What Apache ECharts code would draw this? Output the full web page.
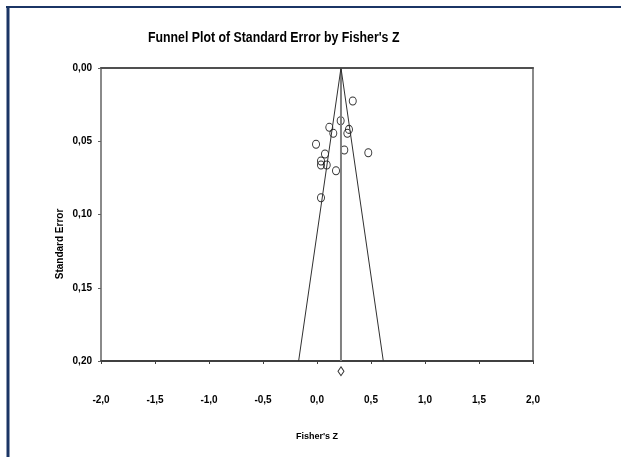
<!DOCTYPE html>
<html>
<head>
<meta charset="utf-8">
<script src="https://cdn.jsdelivr.net/npm/echarts@6/dist/echarts.min.js"></script>
<style>
html,body{margin:0;padding:0;background:#fff;}
#chart{width:621px;height:457px;}
</style>
</head>
<body>
<div id="chart"></div>
<script>
// Study effects (Fisher's Z) and their standard errors
const fisherZ = [0.331, 0.219, 0.114, 0.151, 0.296, 0.281, -0.009, 0.253, 0.475, 0.074, 0.037, 0.037, 0.090, 0.176, 0.037];
const stdErr  = [0.0225, 0.036, 0.0405, 0.0446, 0.0419, 0.0446, 0.0521, 0.056, 0.0578, 0.0587, 0.0635, 0.0662, 0.0662, 0.0701, 0.0886];
// Combined effect (diamond) and funnel
const combinedZ = 0.222;
const combinedSE = 0.207;
const funnelTopSE = 0;
const funnelBottomSE = 0.2;
const funnelLeftZ = -0.17;
const funnelRightZ = 0.614;
const xTicks = ['-2,0','-1,5','-1,0','-0,5','0,0','0,5','1,0','1,5','2,0'];
const yTicks = ['0,00','0,05','0,10','0,15','0,20'];

const sans = '"Liberation Sans", Arial, sans-serif';
const chart = echarts.init(document.getElementById('chart'));

const scatterData = fisherZ.map((z, i) => [z, stdErr[i]]);

chart.setOption({
  backgroundColor: '#ffffff',
  animation: false,
  grid: { left: 101, top: 68, right: 88, bottom: 96 },
  xAxis: [{
    type: 'value', min: -2, max: 2, interval: 0.5, position: 'bottom',
    name: "Fisher's Z", nameLocation: 'middle', nameGap: 71,
    nameTextStyle: { fontFamily: sans, fontWeight: 'bold', fontSize: 9, color: '#000' },
    axisLine: { onZero: false, lineStyle: { color: '#404040', width: 2 } },
    axisTick: { show: true, length: 3, lineStyle: { color: '#404040' } },
    axisLabel: { margin: 34, fontFamily: sans, fontWeight: 'bold', fontSize: 10, color: '#000',
      formatter: (v) => xTicks[Math.round((v + 2) / 0.5)] },
    splitLine: { show: false }
  }, {
    type: 'value', min: -2, max: 2, interval: 0.5, position: 'top',
    axisLine: { onZero: false, lineStyle: { color: '#505050', width: 2 } },
    axisTick: { show: false }, axisLabel: { show: false }, splitLine: { show: false }
  }],
  yAxis: [{
    type: 'value', min: 0, max: 0.2, interval: 0.05, inverse: true, position: 'left',
    axisLine: { show: true, onZero: false, lineStyle: { color: '#8a8a8a', width: 2 } },
    axisTick: { show: true, length: 3, lineStyle: { color: '#606060' } },
    axisLabel: { margin: 9, fontFamily: sans, fontWeight: 'bold', fontSize: 10, color: '#000',
      formatter: (v) => yTicks[Math.round(v / 0.05)] },
    splitLine: { show: false }
  }, {
    type: 'value', min: 0, max: 0.2, interval: 0.05, inverse: true, position: 'right',
    axisLine: { show: true, onZero: false, lineStyle: { color: '#8a8a8a', width: 2 } },
    axisTick: { show: false }, axisLabel: { show: false }, splitLine: { show: false }
  }],
  graphic: [
    { type: 'line', shape: { x1: 6, y1: 7, x2: 621, y2: 7 }, style: { stroke: '#1b3565', lineWidth: 2 } },
    { type: 'line', shape: { x1: 8, y1: 6, x2: 8, y2: 457 }, style: { stroke: '#1b3565', lineWidth: 3 } },
    { type: 'text', x: 148, y: 38, scaleX: 0.88,
      style: { text: "Funnel Plot of Standard Error by Fisher's Z", fontFamily: sans, fontWeight: 'bold', fontSize: 14,
        fill: '#000', align: 'left', verticalAlign: 'middle' } },
    { type: 'text', x: 60, y: 244, rotation: Math.PI / 2,
      style: { text: 'Standard Error', fontFamily: sans, fontWeight: 'bold', fontSize: 10,
        fill: '#000', align: 'center', verticalAlign: 'middle' } }
  ],
  series: [
    { type: 'line', data: [[combinedZ, funnelTopSE], [combinedZ, funnelBottomSE]], symbol: 'none',
      lineStyle: { color: '#808080', width: 2 }, silent: true },
    { type: 'line', data: [[funnelLeftZ, funnelBottomSE], [combinedZ, funnelTopSE], [funnelRightZ, funnelBottomSE]], symbol: 'none',
      lineStyle: { color: '#303030', width: 1 }, silent: true },
    { type: 'scatter', data: scatterData, symbol: 'circle', symbolSize: [7, 8],
      itemStyle: { color: 'rgba(255,255,255,0)', borderColor: '#000', borderWidth: 1 } },
    { type: 'scatter', data: [[combinedZ, combinedSE]], symbol: 'diamond', symbolSize: [6, 9], clip: false,
      itemStyle: { color: 'rgba(255,255,255,0)', borderColor: '#000', borderWidth: 1 } }
  ]
});
</script>
</body>
</html>
